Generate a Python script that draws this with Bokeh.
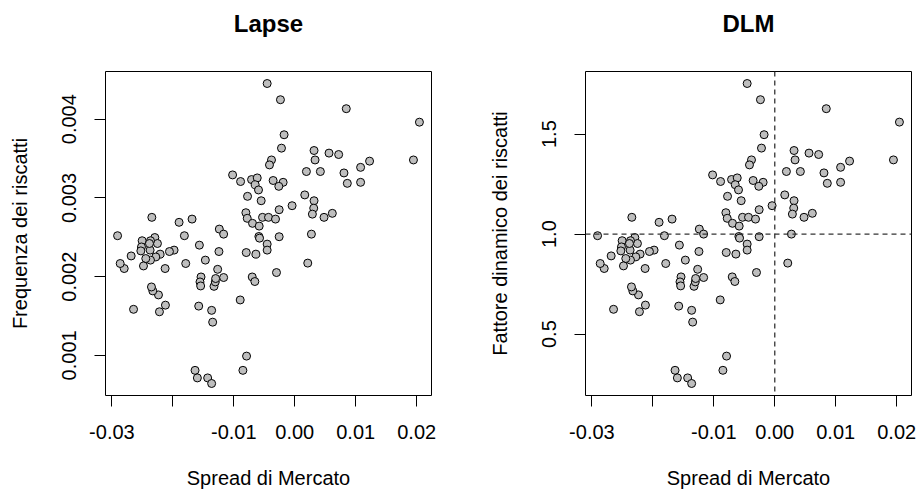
from bokeh.plotting import figure
from bokeh.models import LinearAxis, FixedTicker, Span, Range1d, Title
from bokeh.layouts import row
from bokeh.embed import file_html
from bokeh.resources import INLINE

# Market spread (x) shared by both panels
spread = [-0.00453, -0.00235, 0.00845, 0.02045, -0.00175, -0.00218, 0.00316, 0.00562,
          0.00720, 0.00333, -0.00382, -0.00415, 0.01227, 0.01947, 0.01080, 0.00191,
          0.00420, 0.00807, -0.01020, -0.00889, -0.00709, -0.00616, -0.00355, -0.00191,
          -0.00262, 0.01080, 0.00862, -0.00649, -0.00595, -0.00775, -0.00551, 0.00164,
          0.00316, -0.00044, -0.00256, 0.00311, 0.00289, 0.00616, 0.00480, -0.00802,
          -0.00780, -0.00693, -0.00584, -0.00529, -0.00431, -0.00316, -0.00589, -0.00578,
          -0.00453, -0.00453, -0.00256, 0.00273, -0.00796, -0.00638, -0.00300, 0.00213,
          -0.00698, -0.00655, -0.00895, -0.00791, -0.00851, -0.01636, -0.01598, -0.01429,
          -0.01364, -0.01576, -0.01364, -0.01347, -0.01565, -0.01467, -0.01538, -0.01555,
          -0.01544, -0.01325, -0.01304, -0.01298, -0.01265, -0.01167, -0.01244, -0.01238,
          -0.01167, -0.01685, -0.01898, -0.01811, -0.01789, -0.01980, -0.02056, -0.02127,
          -0.02122, -0.02220, -0.02236, -0.02329, -0.02351, -0.02345, -0.02296, -0.02253,
          -0.02209, -0.02280, -0.02367, -0.02444, -0.02482, -0.02504, -0.02515, -0.02525,
          -0.02367, -0.02373, -0.02684, -0.02645, -0.02798, -0.02864, -0.02907, -0.02384]

# Observed lapse frequency
lapse = [0.004453, 0.004247, 0.004133, 0.003962, 0.003802, 0.003632, 0.003602, 0.003569,
         0.003551, 0.003482, 0.003482, 0.003419, 0.003467, 0.003482, 0.003388, 0.003335,
         0.003335, 0.003317, 0.003292, 0.003208, 0.003233, 0.003254, 0.003221, 0.003198,
         0.003147, 0.003198, 0.003185, 0.003167, 0.003101, 0.003020, 0.002964, 0.003038,
         0.002964, 0.002901, 0.002850, 0.002870, 0.002794, 0.002804, 0.002753, 0.002812,
         0.002741, 0.002677, 0.002642, 0.002753, 0.002753, 0.002731, 0.002510, 0.002489,
         0.002413, 0.002337, 0.002507, 0.002540, 0.002306, 0.002286, 0.002052, 0.002172,
         0.001996, 0.001938, 0.001704, 0.000991, 0.000810, 0.000810, 0.000714, 0.000714,
         0.000643, 0.001626, 0.001572, 0.001422, 0.002400, 0.002210, 0.001996, 0.001933,
         0.001882, 0.001877, 0.001933, 0.001976, 0.002093, 0.001989, 0.002319, 0.002604,
         0.002540, 0.002731, 0.002690, 0.002520, 0.002167, 0.002337, 0.002319, 0.002103,
         0.001638, 0.001554, 0.001768, 0.001819, 0.001869, 0.002753, 0.002497, 0.002421,
         0.002286, 0.002250, 0.002210, 0.002230, 0.002136, 0.002456, 0.002377, 0.002327,
         0.002456, 0.002337, 0.002263, 0.001585, 0.002103, 0.002167, 0.002520, 0.002421]

# Dynamic lapse multiplier
dlm = [1.753, 1.672, 1.627, 1.560, 1.497, 1.430, 1.418, 1.405,
       1.398, 1.371, 1.371, 1.346, 1.365, 1.371, 1.334, 1.313,
       1.313, 1.306, 1.296, 1.263, 1.273, 1.281, 1.268, 1.259,
       1.239, 1.259, 1.254, 1.247, 1.221, 1.189, 1.167, 1.196,
       1.167, 1.142, 1.122, 1.130, 1.100, 1.104, 1.084, 1.107,
       1.079, 1.054, 1.040, 1.084, 1.084, 1.075, 0.988, 0.980,
       0.950, 0.920, 0.987, 1.000, 0.908, 0.900, 0.808, 0.855,
       0.786, 0.763, 0.671, 0.390, 0.319, 0.319, 0.281, 0.281,
       0.253, 0.640, 0.619, 0.560, 0.945, 0.870, 0.786, 0.761,
       0.741, 0.739, 0.761, 0.778, 0.824, 0.783, 0.913, 1.025,
       1.000, 1.075, 1.059, 0.992, 0.853, 0.920, 0.913, 0.828,
       0.645, 0.612, 0.696, 0.716, 0.736, 1.084, 0.983, 0.953,
       0.900, 0.886, 0.870, 0.878, 0.841, 0.967, 0.936, 0.916,
       0.967, 0.920, 0.891, 0.624, 0.828, 0.853, 0.992, 0.953]

x_ticks = [-0.03, -0.02, -0.01, 0.0, 0.01, 0.02]
x_tick_labels = ["-0.03", "", "-0.01", "0.00", "0.01", "0.02"]
lapse_ticks = [0.001, 0.002, 0.003, 0.004]
lapse_tick_labels = ["0.001", "0.002", "0.003", "0.004"]
dlm_ticks = [0.5, 1.0, 1.5]
dlm_tick_labels = ["0.5", "1.0", "1.5"]

FONT = "Liberation Sans"


def padded(vals, frac=0.04):
    lo, hi = min(vals), max(vals)
    pad = (hi - lo) * frac
    return Range1d(lo - pad, hi + pad)


def style_axis(ax):
    ax.axis_line_color = None
    ax.major_tick_in = 0
    ax.major_tick_out = 11
    ax.minor_tick_in = 0
    ax.minor_tick_out = 0
    ax.major_tick_line_color = "black"
    ax.major_tick_line_width = 1
    ax.major_label_text_font = FONT
    ax.major_label_text_font_size = "20px"
    ax.major_label_text_color = "black"
    ax.axis_label_text_font = FONT
    ax.axis_label_text_font_size = "20px"
    ax.axis_label_text_font_style = "normal"
    ax.axis_label_text_color = "black"


def panel(title, y, y_ticks, y_labels, y_title, left, right):
    p = figure(width=459, height=494, x_range=padded(spread), y_range=padded(y),
               x_axis_location=None, y_axis_location=None,
               toolbar_location=None, output_backend="svg",
               min_border_left=left, min_border_right=right,
               min_border_top=71, min_border_bottom=99)
    p.xgrid.grid_line_color = None
    p.ygrid.grid_line_color = None
    p.outline_line_color = "black"
    p.outline_line_width = 1
    p.background_fill_color = "white"
    p.border_fill_color = "white"

    p.title.text = title
    p.title.text_font = FONT
    p.title.text_font_size = "24px"
    p.title.text_font_style = "bold"
    p.title.text_color = "black"
    p.title.align = "center"
    p.title.vertical_align = "top"
    p.title.standoff = 18

    # blank strip between the frame and the title, lifting the title up
    p.add_layout(Title(text=" ", text_font_size="2px", standoff=20), "above")

    xa = LinearAxis(ticker=FixedTicker(ticks=x_ticks),
                    major_label_overrides=dict(zip(x_ticks, x_tick_labels)),
                    axis_label="Spread di Mercato")
    style_axis(xa)
    xa.major_label_standoff = 18
    xa.axis_label_standoff = 25
    p.add_layout(xa, "below")

    ya = LinearAxis(ticker=FixedTicker(ticks=y_ticks),
                    major_label_overrides=dict(zip(y_ticks, y_labels)),
                    axis_label=y_title)
    style_axis(ya)
    ya.major_label_orientation = "vertical"
    ya.major_label_standoff = 18
    ya.axis_label_standoff = 29
    p.add_layout(ya, "left")
    return p


p1 = panel("Lapse", lapse, lapse_ticks, lapse_tick_labels,
           "Frequenza dei riscatti", 105, 28)
p1.scatter(spread, lapse, size=8, fill_color="#BEBEBE", line_color="black", line_width=1)

p2 = panel("DLM", dlm, dlm_ticks, dlm_tick_labels,
           "Fattore dinamico dei riscatti", 126, 7)
p2.add_layout(Span(location=0.0, dimension="height", line_color="#333333",
                   line_width=1.3, line_dash="5 4"))
p2.add_layout(Span(location=1.0, dimension="width", line_color="#333333",
                   line_width=1.3, line_dash="5 4"))
p2.scatter(spread, dlm, size=8, fill_color="#BEBEBE", line_color="black", line_width=1)

layout = row(p1, p2)
open("out.html", "w").write(file_html(layout, INLINE))
